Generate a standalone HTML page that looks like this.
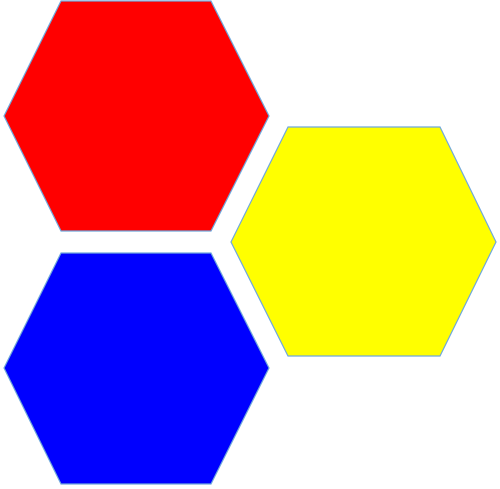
<!DOCTYPE html>
<html><head><meta charset="utf-8"><style>html,body{margin:0;padding:0;background:#fff;width:500px;height:489px;overflow:hidden}</style></head>
<body>
<svg width="500" height="489" viewBox="0 0 500 489">
<polygon points="61,1 211,1 269,116 211,231 61,231 4,116" fill="#ff0000" stroke="#6fa8dc" stroke-width="1.2"/>
<polygon points="288,127 440,127 496,242 440,356 288,356 231,242" fill="#ffff00" stroke="#6fa8dc" stroke-width="1.2"/>
<polygon points="61,253 211,253 269,368 211,484 61,484 4,368" fill="#0000ff" stroke="#6fa8dc" stroke-width="1.2"/>
</svg>
</body></html>
